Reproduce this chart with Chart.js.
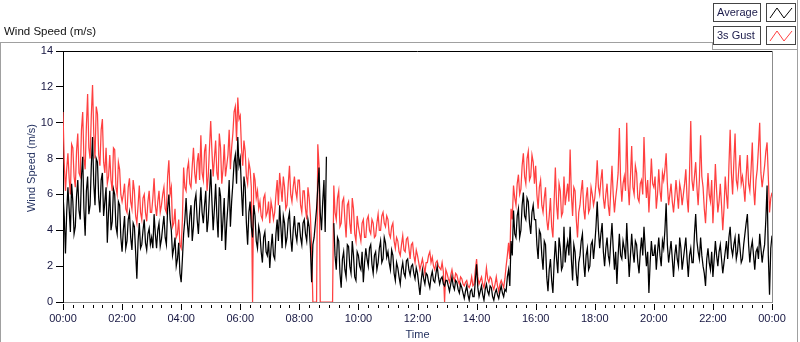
<!DOCTYPE html>
<html>
<head>
<meta charset="utf-8">
<script src="https://cdn.jsdelivr.net/npm/chart.js@4/dist/chart.umd.min.js"></script>
<style>
  html, body { margin: 0; padding: 0; background: #fff; }
  #wrap { position: relative; width: 800px; height: 342px; overflow: hidden;
          font-family: "Liberation Sans", Arial, sans-serif; font-size: 11px; }
  #chart { position: absolute; left: 0; top: 0; }
  .ln { position: absolute; background: #a0a0a0; }
  .title { position: absolute; left: 4px; top: 25px; color: #111; line-height: 13px; font-size: 11.5px; }
  .ytitle { position: absolute; left: 31px; top: 168px; white-space: nowrap; color: #1e2c5c;
            transform: translate(-50%, -50%) rotate(-90deg); line-height: 13px; }
  .lg { position: absolute; box-sizing: border-box; border: 1px solid #444; background: #fff; }
  .lg span { position: absolute; left: 3px; top: 2px; line-height: 13px; color: #1a1a4a; }
  .lg svg { position: absolute; left: 0; top: 0; }
</style>
</head>
<body>
<div id="wrap">
  <canvas id="chart" width="800" height="342"></canvas>
  <div class="ln" style="left:0;top:42px;width:712px;height:1px"></div>
  <div class="ln" style="left:0;top:42px;width:1px;height:300px"></div>
  <div class="ln" style="left:797px;top:0;width:1px;height:342px"></div>
  <div class="ln" style="left:712px;top:49px;width:86px;height:1px"></div>
  <div class="ln" style="left:712px;top:42px;width:1px;height:8px"></div>
  <div class="title">Wind Speed (m/s)</div>
  <div class="ytitle">Wind Speed (m/s)</div>
  <div class="lg" style="left:713px;top:3px;width:48px;height:19px"><span>Average</span></div>
  <div class="lg" style="left:766px;top:3px;width:30px;height:19px">
    <svg width="28" height="17"><polyline points="3,14 10,4 17,14 25,4" fill="none" stroke="#000" stroke-width="1"/></svg>
  </div>
  <div class="lg" style="left:713px;top:26px;width:48px;height:19px"><span>3s Gust</span></div>
  <div class="lg" style="left:766px;top:26px;width:30px;height:19px">
    <svg width="28" height="17"><polyline points="3,14 10,4 17,14 25,4" fill="none" stroke="#ff4040" stroke-width="1"/></svg>
  </div>
</div>
<script>
// one sample every 2.5 minutes, 00:00 .. 24:00 (24 values per hour)
const SAMPLE_MIN = 2.5;
const timeTicks = ['00:00','02:00','04:00','06:00','08:00','10:00','12:00','14:00','16:00','18:00','20:00','22:00','00:00'];

const avgSpeed = [
  6.0, 4.8, 2.7, 5.0, 6.4, 5.2, 3.9, 6.6, 5.6, 3.8, 4.2, 5.9, 6.8, 5.1, 4.6, 7.0, 8.1, 5.2, 3.7, 6.2, 7.0, 4.9, 5.4, 7.6,
  9.2, 6.6, 5.4, 8.0, 7.8, 5.8, 5.0, 6.8, 7.2, 4.8, 5.6, 6.4, 3.3, 5.0, 6.2, 4.0, 4.5, 6.3, 6.0, 4.2, 3.8, 5.6, 5.4, 3.6,
  2.8, 4.0, 4.8, 3.0, 3.4, 4.6, 5.0, 3.6, 2.9, 4.4, 4.2, 2.8, 1.3, 3.4, 4.4, 3.0, 3.2, 4.0, 4.6, 3.3, 2.9, 3.8, 4.1, 3.2,
  3.6, 3.0, 4.9, 3.8, 3.0, 4.0, 4.4, 3.1, 3.5, 4.2, 4.8, 3.6, 3.2, 5.2, 6.0, 4.6, 4.0, 2.6, 3.0, 3.6, 2.0, 2.4, 3.3, 1.6,
  1.1, 2.4, 3.8, 4.6, 5.8, 4.4, 3.6, 4.8, 5.4, 3.4, 4.2, 5.6, 6.0, 4.6, 3.8, 5.2, 6.4, 5.0, 4.4, 5.4, 6.2, 3.9, 4.6, 6.0,
  7.4, 5.6, 4.0, 5.2, 6.6, 4.8, 3.6, 6.4, 5.9, 3.4, 4.6, 5.8, 2.9, 4.4, 5.4, 6.8, 4.2, 5.6, 6.6, 7.8, 8.2, 6.6, 9.2, 7.6,
  8.0, 6.2, 4.8, 7.0, 6.4, 4.4, 3.2, 5.0, 5.6, 4.2, 3.6, 5.4, 4.8, 3.4, 3.0, 4.2, 3.8, 2.8, 2.2, 3.6, 3.9, 2.8, 2.6, 3.4,
  1.9, 3.0, 3.8, 2.6, 2.4, 3.8, 4.6, 3.4, 5.4, 4.2, 3.0, 4.8, 4.4, 3.2, 3.6, 4.6, 5.0, 3.6, 2.8, 4.0, 4.8, 3.8, 3.4, 4.4,
  4.4, 3.6, 3.2, 4.4, 4.6, 3.8, 3.4, 4.6, 4.2, 3.0, 1.1, 3.2, 3.6, 4.4, 5.2, 6.4, 7.5, 5.0, 4.0, 5.6, 6.8, 3.9, 8.1, null,
  null, null, null, null, 4.4, 2.6, 1.8, 3.6, 3.4, 1.6, 0.8, 2.4, 2.8, 1.8, 1.4, 3.2, 3.1, 2.0, 1.6, 3.4, 2.6, 1.4, 1.2, 2.8,
  2.6, 2.0, 1.8, 2.8, 1.1, 2.2, 3.0, 2.4, 2.0, 3.0, 3.2, 2.1, 1.6, 2.6, 2.8, 1.8, 2.2, 3.0, 3.4, 2.2, 2.4, 3.6, 3.3, 2.5,
  2.8, 2.2, 1.8, 2.9, 2.6, 1.6, 1.2, 2.2, 1.9, 1.4, 1.0, 1.8, 2.2, 1.6, 1.4, 2.3, 2.4, 1.8, 1.5, 2.0, 2.1, 1.6, 1.3, 1.9,
  1.6, 1.0, 0.4, 1.2, 1.8, 1.3, 1.0, 1.6, 1.5, 1.1, 0.8, 1.4, 1.7, 1.2, 1.1, 1.6, 2.0, 1.4, 1.0, 1.3, 1.4, 1.0, 0.9, 1.2,
  1.2, 0.9, 0.6, 1.0, 1.4, 0.9, 0.7, 1.2, 1.1, 0.7, 0.5, 1.0, 0.8, 0.5, 0.2, 0.6, 0.9, 0.4, 0.1, 0.6, 0.7, 0.3, 0.3, 1.2,
  2.1, 0.8, 0.3, 0.6, 0.9, 0.4, 0.1, 0.7, 1.0, 0.6, 0.4, 0.9, 0.8, 0.3, 0.1, 0.5, 0.7, 0.4, 0.2, 0.6, 0.9, 0.5, 0.3, 0.7,
  0.6, 1.4, 1.8, 0.9, 3.4, 2.6, 5.1, 3.8, 3.6, 4.8, 5.2, 3.6, 4.0, 5.4, 6.1, 4.8, 4.6, 5.8, 5.6, 4.4, 3.8, 5.0, 5.4, 4.6,
  4.6, 3.2, 2.4, 4.0, 3.8, 2.6, 1.8, 3.4, 3.2, 1.4, 0.6, 1.8, 2.4, 1.2, 0.5, 2.2, 3.4, 2.4, 1.6, 3.6, 3.0, 1.8, 2.0, 4.2,
  2.2, 3.0, 3.4, 2.6, 4.2, 2.4, 1.2, 3.2, 2.8, 1.6, 0.9, 2.2, 2.6, 3.4, 3.8, 2.2, 1.4, 2.6, 3.0, 1.8, 2.0, 3.2, 3.4, 2.4,
  3.2, 4.2, 5.6, 4.0, 3.0, 3.8, 4.4, 2.8, 2.0, 3.0, 3.6, 2.6, 2.2, 3.4, 4.4, 3.0, 1.8, 2.8, 1.0, 2.6, 3.8, 2.6, 2.4, 3.4,
  3.0, 2.4, 4.4, 2.8, 1.4, 2.6, 3.8, 2.8, 2.2, 3.4, 3.2, 2.2, 1.6, 2.8, 3.6, 2.6, 4.2, 3.0, 2.0, 2.8, 0.5, 2.2, 3.4, 2.6,
  2.6, 3.2, 1.8, 2.8, 3.6, 2.6, 2.0, 3.4, 3.0, 4.0, 5.5, 3.2, 2.2, 2.8, 3.4, 2.4, 1.4, 2.6, 3.2, 2.4, 2.0, 3.6, 3.0, 1.8,
  2.4, 3.0, 3.6, 2.4, 1.4, 2.6, 3.0, 2.2, 2.2, 3.8, 4.9, 3.4, 2.8, 2.4, 3.6, 2.6, 2.0, 1.6, 0.9, 2.4, 3.0, 2.2, 1.8, 2.8,
  1.4, 2.4, 3.4, 2.6, 2.0, 2.8, 3.2, 2.4, 1.6, 2.2, 2.8, 3.4, 2.4, 3.6, 4.2, 3.0, 2.6, 3.2, 3.6, 2.4, 2.8, 3.8, 3.0, 2.2,
  2.4, 3.2, 3.8, 4.4, 4.9, 3.2, 2.2, 3.0, 3.4, 2.6, 1.8, 2.8, 3.0, 2.4, 3.8, 3.0, 2.2, 2.8, 3.2, 4.6, 6.5, 2.6, 0.4, 3.0,
  3.7
];

const gustSpeed = [
  10.6, 7.8, 6.2, 7.4, 8.3, 6.9, 6.0, 8.8, 8.6, 7.0, 6.4, 8.4, 9.4, 7.2, 7.0, 9.6, 10.6, 8.0, 7.4, 9.8, 11.6, 8.6, 8.0, 10.4,
  12.1, 9.4, 8.0, 10.9, 10.5, 8.2, 7.6, 9.6, 10.2, 7.8, 7.2, 8.6, 6.6, 7.0, 8.2, 6.8, 6.2, 8.6, 8.5, 6.4, 6.0, 7.8, 7.4, 6.0,
  5.6, 6.0, 6.6, 5.2, 5.0, 6.4, 6.9, 5.6, 5.2, 6.8, 6.2, 4.8, 4.4, 5.4, 6.5, 5.0, 4.6, 5.8, 6.0, 5.0, 4.5, 5.6, 6.2, 5.0,
  5.0, 5.8, 6.9, 5.4, 4.8, 5.6, 6.2, 5.0, 5.4, 6.0, 6.4, 5.2, 5.0, 7.0, 7.9, 6.0, 6.4, 4.2, 4.4, 5.2, 3.6, 3.8, 4.6, 3.2,
  3.0, 4.6, 7.5, 6.4, 6.2, 7.4, 7.8, 6.6, 6.4, 7.6, 8.6, 7.2, 6.6, 7.8, 8.3, 6.8, 9.3, 7.2, 6.8, 8.4, 8.8, 6.2, 7.0, 8.6,
  10.1, 8.4, 7.0, 8.0, 9.0, 7.2, 6.8, 9.4, 8.6, 6.6, 7.4, 8.8, 7.0, 7.6, 8.2, 9.6, 7.4, 8.6, 9.4, 10.6, 10.9, 9.0, 11.4, 10.2,
  10.4, 8.6, 7.6, 9.0, 8.4, 7.0, 6.6, 7.8, 7.4, 6.4, 0, 7.2, 6.8, 5.8, 6.2, 5.2, 5.6, 4.8, 4.6, 5.8, 6.0, 4.8, 5.0, 5.6,
  4.4, 5.6, 5.2, 4.6, 5.0, 6.0, 6.8, 5.4, 7.2, 6.4, 5.6, 7.0, 6.4, 5.2, 5.4, 6.6, 7.6, 6.0, 5.6, 6.4, 7.0, 6.2, 5.8, 6.8,
  6.8, 5.4, 5.0, 6.2, 6.2, 5.2, 4.6, 6.4, 5.8, 4.8, 3.0, 0, 0, 0, 0, 8.8, 7.6, 0, 0, 0, 0, 0, 0, 0,
  0, 0, 0, 0, 6.5, 5.0, 4.6, 5.8, 6.2, 4.2, 4.4, 5.6, 5.8, 4.6, 3.6, 5.4, 5.6, 4.4, 3.8, 5.8, 5.2, 3.8, 3.4, 4.8,
  4.2, 3.8, 3.4, 4.4, 4.6, 3.6, 3.6, 4.6, 4.8, 4.0, 3.8, 4.6, 4.4, 3.6, 3.7, 4.4, 4.9, 4.0, 4.0, 4.8, 5.0, 4.4, 4.2, 4.8,
  4.6, 3.8, 3.6, 4.2, 4.4, 3.4, 3.0, 3.6, 3.4, 2.8, 2.6, 3.2, 3.7, 2.9, 2.8, 3.5, 3.6, 3.0, 2.4, 3.2, 3.3, 2.6, 2.2, 2.9,
  2.6, 2.2, 1.8, 2.1, 2.4, 2.0, 1.6, 2.2, 2.2, 2.6, 2.8, 2.2, 2.5, 2.0, 1.8, 2.2, 2.3, 2.0, 1.9, 1.8, 2.2, 1.7, 0, 1.8,
  1.6, 1.3, 1.1, 1.5, 1.8, 1.4, 1.2, 1.6, 1.5, 1.2, 1.0, 1.4, 1.3, 1.0, 0.9, 1.1, 1.2, 0.9, 0.8, 1.0, 1.4, 0.9, 1.0, 1.8,
  2.4, 1.4, 1.0, 1.2, 1.4, 1.0, 0.8, 1.2, 1.9, 1.3, 1.1, 1.4, 1.3, 0.9, 0.7, 1.0, 1.4, 0.9, 0.6, 1.0, 1.2, 1.0, 0.8, 1.3,
  2.0, 2.6, 3.3, 2.4, 5.2, 4.6, 6.5, 5.8, 5.4, 6.6, 7.1, 6.0, 6.3, 7.6, 8.3, 7.0, 6.6, 8.0, 8.4, 6.8, 7.0, 8.2, 7.8, 6.6,
  7.6, 6.0, 5.2, 6.4, 6.8, 5.4, 5.0, 5.8, 6.4, 4.6, 4.0, 4.8, 5.8, 4.2, 3.6, 5.6, 7.5, 5.4, 4.6, 6.6, 6.2, 4.8, 5.0, 7.0,
  5.4, 6.0, 6.6, 5.6, 8.5, 6.0, 4.8, 6.4, 6.2, 4.6, 3.6, 5.0, 5.4, 6.2, 6.8, 5.2, 4.6, 5.8, 6.4, 5.0, 5.2, 6.4, 6.0, 5.4,
  5.8, 6.6, 7.9, 6.4, 6.0, 6.8, 7.4, 5.8, 5.2, 6.0, 6.6, 5.4, 4.8, 6.2, 7.6, 6.0, 5.0, 5.8, 6.4, 7.2, 9.7, 6.8, 5.6, 6.6,
  7.0, 6.2, 10.0, 6.6, 5.4, 7.0, 8.7, 6.4, 6.0, 7.6, 7.2, 5.8, 5.6, 6.6, 6.8, 6.0, 9.2, 7.0, 5.8, 6.8, 5.0, 6.4, 8.0, 6.6,
  6.4, 7.0, 5.2, 6.0, 7.4, 6.2, 5.6, 7.2, 6.8, 7.4, 8.3, 6.6, 5.4, 6.0, 6.6, 5.6, 5.0, 5.8, 6.8, 6.0, 5.2, 6.6, 6.2, 5.4,
  6.0, 6.6, 7.4, 5.8, 5.0, 7.2, 10.1, 6.8, 6.2, 7.0, 7.8, 6.4, 5.4, 6.8, 9.3, 7.0, 6.4, 5.2, 4.4, 5.8, 7.2, 6.0, 5.6, 6.8,
  4.4, 5.8, 7.7, 6.2, 5.0, 5.6, 6.6, 5.4, 4.0, 5.2, 7.0, 6.0, 5.2, 7.6, 9.6, 7.2, 6.0, 7.8, 9.4, 6.8, 6.4, 7.4, 8.2, 6.6,
  7.0, 6.4, 5.6, 7.0, 8.2, 6.6, 6.2, 7.4, 8.9, 6.4, 5.4, 6.8, 7.4, 8.6, 10.0, 7.2, 6.4, 7.0, 7.6, 8.4, 8.9, 7.0, 5.0, 5.8,
  6.1
];

const FONT = { family: '"Liberation Sans", Arial, sans-serif', size: 11 };
const TICK_COLOR = '#151540';

const toPoints = arr => arr.map((v, i) => ({ x: i * SAMPLE_MIN, y: v }));

// top/right plot edges and the x tick marks (long every 2 h, short every 20 min)
const frame = {
  id: 'frame',
  afterDraw(chart) {
    const { ctx, chartArea: a, scales: { x } } = chart;
    ctx.save();
    ctx.lineWidth = 1;
    ctx.strokeStyle = '#000';
    ctx.beginPath();
    ctx.moveTo(a.left, Math.round(a.top) + 0.5);
    ctx.lineTo(a.right, Math.round(a.top) + 0.5);
    x.ticks.forEach(t => {
      const px = Math.round(x.getPixelForValue(t.value)) + 0.5;
      const major = t.value % 120 === 0;
      ctx.moveTo(px, a.bottom + (major ? 2 : 3));
      ctx.lineTo(px, a.bottom + (major ? 8 : 6));
    });
    ctx.stroke();
    ctx.strokeStyle = '#8c8c8c';
    ctx.beginPath();
    ctx.moveTo(Math.round(a.right) + 0.5, a.top);
    ctx.lineTo(Math.round(a.right) + 0.5, a.bottom);
    ctx.stroke();
    ctx.restore();
  }
};

new Chart(document.getElementById('chart'), {
  type: 'line',
  data: {
    datasets: [
      { label: 'Average', data: toPoints(avgSpeed), borderColor: '#000', borderWidth: 1.25,
        pointRadius: 0, tension: 0, spanGaps: false },
      { label: '3s Gust', data: toPoints(gustSpeed), borderColor: '#ff4040', borderWidth: 1.25,
        pointRadius: 0, tension: 0, spanGaps: false }
    ]
  },
  options: {
    responsive: false, animation: false,
    layout: { padding: { left: 0, right: 28, top: 51, bottom: 0 } },
    plugins: { legend: { display: false }, tooltip: { enabled: false } },
    scales: {
      x: {
        type: 'linear', min: 0, max: 1440,
        afterFit: s => { s.height = 40; },
        border: { display: true, color: '#8c8c8c' },
        grid: { display: true, drawOnChartArea: false, drawTicks: true, tickLength: 6, tickColor: 'rgba(0,0,0,0)' },
        ticks: {
          stepSize: 20, autoSkip: false, maxRotation: 0, padding: 4, color: TICK_COLOR, font: FONT,
          callback: v => (v % 120 === 0 ? timeTicks[v / 120] : '')
        },
        title: { display: true, text: 'Time', color: '#1e2c5c', font: FONT, padding: { top: 0, bottom: 0 } }
      },
      y: {
        min: 0, max: 14,
        afterFit: s => { s.width = 63; },
        border: { display: true, color: '#000' },
        grid: { display: true, drawOnChartArea: false, drawTicks: true, tickLength: 7, tickColor: '#000' },
        ticks: { stepSize: 2, padding: 3, color: TICK_COLOR, font: FONT }
      }
    }
  },
  plugins: [frame]
});
</script>
</body>
</html>
